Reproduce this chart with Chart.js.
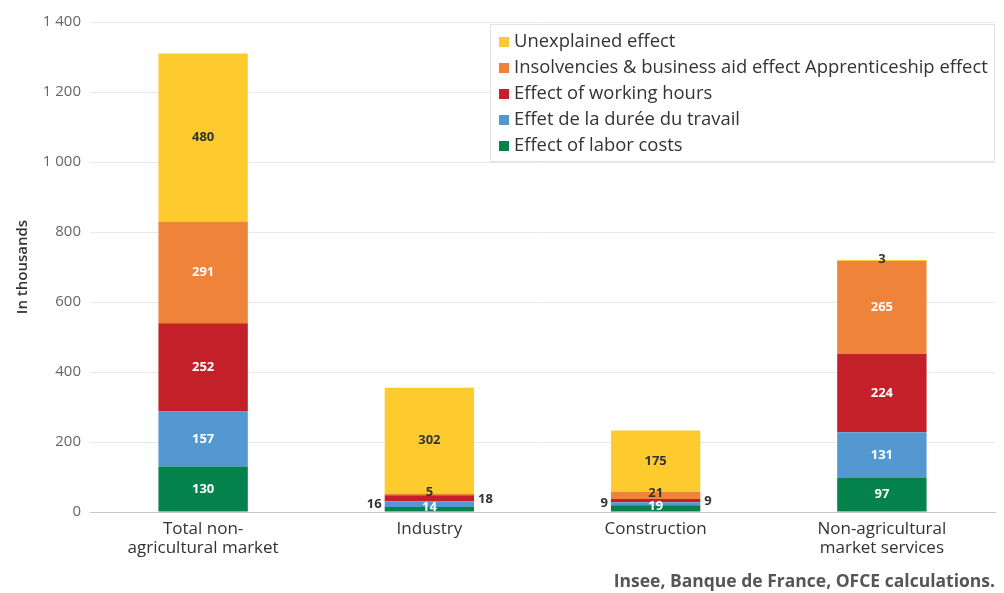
<!DOCTYPE html>
<html lang="en">

<head>
    <meta charset="utf-8">
    <script src="https://cdn.jsdelivr.net/npm/chart.js@4.4.0/dist/chart.umd.min.js"></script>
    <style>
        html, body { margin: 0; padding: 0; background: #fff; }
        #wrap { width: 1004px; height: 593px; }
    </style>
</head>

<body>
    <div id="wrap"><canvas id="effectsChart"></canvas></div>

    <script>
        const categories = [['Total non-', 'agricultural market'], 'Industry', 'Construction', ['Non-agricultural', 'market services']];
        const laborCosts = [130, 14, 19, 97];
        const workDuration = [157, 16, 9, 131];
        const workingHours = [252, 18, 9, 224];
        const insolvencies = [291, 5, 21, 265];
        const unexplained = [480, 302, 175, 3];
        const yTicks = [0, 200, 400, 600, 800, 1000, 1200, 1400];

        const FONT = '"Open Sans", sans-serif';

        // small segments get their label placed outside / darker
        const datasets = [
            { label: 'Effect of labor costs', data: laborCosts, backgroundColor: '#03824C', small: 'center', smallColor: '#fff', color: '#fff' },
            { label: 'Effet de la durée du travail', data: workDuration, backgroundColor: '#5498D2', small: 'left', smallColor: '#333', color: '#fff' },
            { label: 'Effect of working hours', data: workingHours, backgroundColor: '#C4202A', small: 'right', smallColor: '#333', color: '#fff' },
            { label: 'Insolvencies & business aid effect Apprenticeship effect', data: insolvencies, backgroundColor: '#F0833A', small: 'up', smallColor: '#333', color: '#fff' },
            { label: 'Unexplained effect', data: unexplained, backgroundColor: '#FECB2F', small: 'above', smallColor: '#333', color: '#333' }
        ];

        const barLabels = {
            id: 'barLabels',
            afterDatasetsDraw(chart) {
                const c = chart.ctx;
                c.save();
                c.font = 'bold 13px ' + FONT;
                chart.data.datasets.forEach((ds, i) => {
                    const meta = chart.getDatasetMeta(i);
                    meta.data.forEach((el, j) => {
                        const v = ds.data[j];
                        let x = el.x;
                        let y = (el.y + el.base) / 2;
                        const half = el.width / 2;
                        c.textBaseline = 'middle';
                        c.textAlign = 'center';
                        c.fillStyle = ds.color;
                        if (v < 25) {
                            c.fillStyle = ds.smallColor;
                            if (ds.small === 'left') { c.textAlign = 'right'; x = el.x - half - 3; }
                            else if (ds.small === 'right') { c.textAlign = 'left'; x = el.x + half + 4; y += 1; }
                            else if (ds.small === 'up') { y -= 2; }
                            else if (ds.small === 'above') { y = el.y - 1; }
                            else { y -= 2; }
                        }
                        c.fillText(v, x, y);
                    });
                });
                c.restore();
            }
        };

        const boxLegend = {
            id: 'boxLegend',
            afterDatasetsDraw(chart) {
                const c = chart.ctx;
                const area = chart.chartArea;
                const left = 490, top = 24, right = area.right, bottom = 162;
                c.save();
                c.fillStyle = '#fff';
                c.fillRect(left, top, right - left, bottom - top);
                c.strokeStyle = '#e3e3e3';
                c.lineWidth = 1;
                c.strokeRect(left + 0.5, top + 0.5, right - left - 1, bottom - top - 1);
                c.font = '18.4px ' + FONT;
                c.textBaseline = 'middle';
                c.textAlign = 'left';
                const items = chart.data.datasets.slice().reverse();
                items.forEach((ds, k) => {
                    const cy = 42 + k * 26;
                    c.fillStyle = ds.backgroundColor;
                    c.fillRect(499, cy - 5, 10, 10);
                    c.fillStyle = '#333';
                    c.fillText(ds.label, 514, cy);
                });
                c.restore();
            }
        };

        const ctx = document.getElementById('effectsChart');
        const myChart = new Chart(ctx, {
            type: 'bar',
            data: {
                labels: categories,
                datasets: datasets.map(d => ({
                    label: d.label,
                    data: d.data,
                    backgroundColor: d.backgroundColor,
                    small: d.small,
                    smallColor: d.smallColor,
                    color: d.color,
                    categoryPercentage: 1.0,
                    barPercentage: 0.395,
                    borderWidth: 0
                }))
            },
            options: {
                responsive: true,
                maintainAspectRatio: false,
                animation: false,
                layout: { padding: { top: 22, right: 9, left: 14, bottom: 0 } },
                plugins: {
                    legend: { display: false },
                    tooltip: { enabled: false },
                    title: {
                        display: true,
                        text: 'Insee, Banque de France, OFCE calculations.',
                        position: 'bottom',
                        align: 'end',
                        color: '#555',
                        font: { family: FONT, size: 17.5, weight: 'bold' },
                        padding: { top: 10, bottom: 0 }
                    }
                },
                scales: {
                    x: {
                        stacked: true,
                        grid: { display: false, drawTicks: false },
                        border: { color: '#c8c8c8' },
                        ticks: { color: '#333', font: { family: FONT, size: 17, lineHeight: 1.1 }, padding: 8, maxRotation: 0 },
                        afterFit(scale) { scale.height = 50; }
                    },
                    y: {
                        stacked: true,
                        min: 0,
                        max: 1400,
                        afterBuildTicks(scale) { scale.ticks = yTicks.map(v => ({ value: v })); },
                        grid: { color: '#e8e8e8', drawTicks: false },
                        border: { display: false },
                        ticks: {
                            color: '#666',
                            padding: 9,
                            font: { family: FONT, size: 15 },
                            callback: v => String(v).replace(/\B(?=(\d{3})+(?!\d))/g, ' ')
                        },
                        title: {
                            display: true,
                            text: 'In thousands',
                            color: '#333',
                            font: { family: FONT, size: 15, weight: '600' },
                            padding: { top: 0, bottom: 8 }
                        },
                        afterFit(scale) { scale.width = 76; }
                    }
                }
            },
            plugins: [barLabels, boxLegend]
        });
    </script>

</body>

</html>
